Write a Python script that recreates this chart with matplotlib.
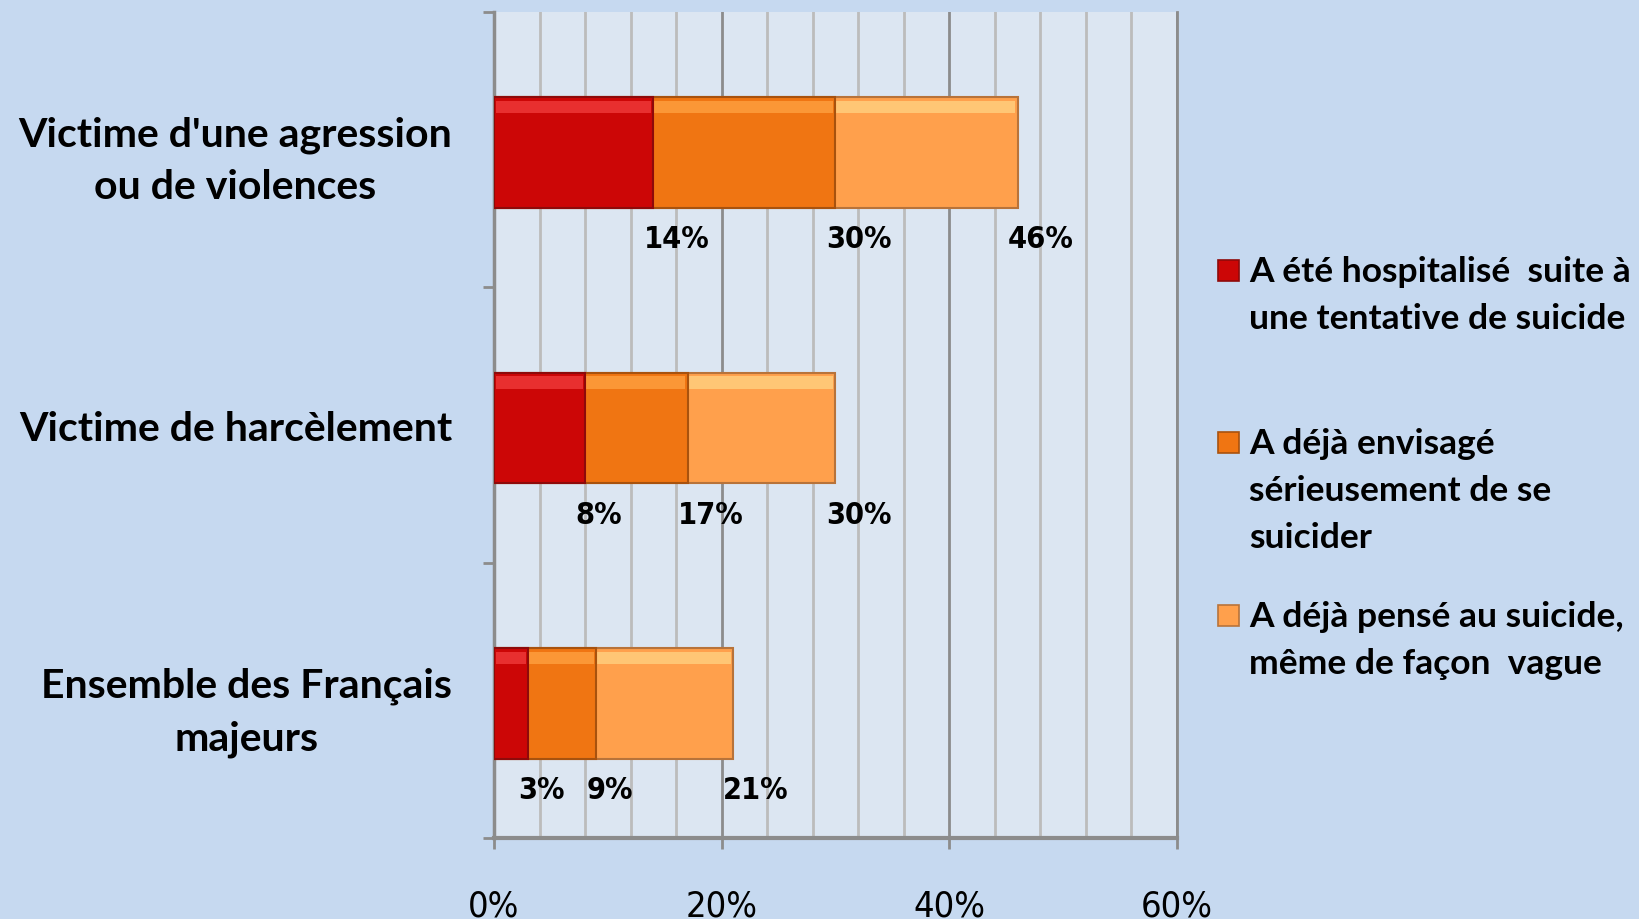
import matplotlib
matplotlib.use("Agg")
import matplotlib.pyplot as plt
from matplotlib.patches import Rectangle
from matplotlib.ticker import MultipleLocator, FixedLocator

# données (%)
categories = ["Victime d'une agression\nou de violences",
              "Victime de harcèlement",
              "Ensemble des Français\nmajeurs"]
hospitalise = [14, 8, 3]
envisage = [30, 17, 9]
pense = [46, 30, 21]
series_labels = ["A été hospitalisé  suite à\nune tentative de suicide",
                 "A déjà envisagé\nsérieusement de se\nsuicider",
                 "A déjà pensé au suicide,\nmême de façon  vague"]
xticks = [0, 20, 40, 60]

fig_bg = "#C6D9F0"
plot_bg = "#DCE6F2"
col_red, col_org, col_light = "#CC0606", "#F07512", "#FFA04C"
edge_red, edge_org, edge_light = "#8E0A0A", "#A8520E", "#B8733A"
top_red, top_org, top_light = "#F03A3A", "#FFA040", "#FFD080"

narrow = dict(family="DejaVu Sans", stretch="condensed")
label_font = ["Lato", "DejaVu Sans"]

fig = plt.figure(figsize=(16.39, 9.2), dpi=100, facecolor=fig_bg)
ax = fig.add_axes([0.3014, 0.088, 0.4167, 0.8984])
ax.set_facecolor(plot_bg)

y = list(range(len(categories)))
yb = [k + 0.012 for k in y]
h = 0.40
# barres superposées, la plus grande dessous
layers = [(pense, col_light, edge_light, top_light),
          (envisage, col_org, edge_org, top_org),
          (hospitalise, col_red, edge_red, top_red)]
z = 3
for vals, fc, ec, tc in layers:
    ax.barh(yb, vals, height=h, color=fc, edgecolor=ec, linewidth=1.5, zorder=z)
    # reflet en haut de la barre
    ax.barh([k - h / 2 + 0.035 for k in yb], [v - 0.35 for v in vals], left=0.15,
            height=0.045, color=tc, alpha=0.8, linewidth=0, zorder=z + 0.5)
    z += 1

# étiquettes sous les barres
for i in y:
    for v in (hospitalise[i], envisage[i], pense[i]):
        ax.annotate(f"{v}%", xy=(v, i + 0.325), xytext=(-7, 0), textcoords="offset points",
                    ha="left", va="center", fontsize=22, fontweight="bold",
                    color="black", zorder=8, **narrow)

ax.set_xlim(0, 60)
ax.set_ylim(len(categories) - 0.5, -0.5)

# grille
ax.xaxis.set_major_locator(FixedLocator(xticks))
ax.xaxis.set_minor_locator(MultipleLocator(4))
ax.grid(which="minor", axis="x", color="#BCBCBC", linewidth=2, zorder=1)
ax.grid(which="major", axis="x", color="#8C8C8C", linewidth=2, zorder=1)
ax.set_xticklabels([f"{t}%" for t in xticks], fontsize=26, **narrow)
ax.tick_params(axis="x", which="major", length=8, width=2, color="#8C8C8C", pad=28)
ax.tick_params(axis="x", which="minor", length=0)

ax.yaxis.set_major_locator(FixedLocator([k - 0.5 for k in range(len(categories) + 1)]))
ax.yaxis.set_minor_locator(FixedLocator(y))
ax.set_yticklabels([], minor=False)
ax.set_yticklabels(categories, minor=True, family=label_font, fontweight="bold",
                   fontsize=29.5, multialignment="center", linespacing=1.5)
ax.tick_params(axis="y", which="major", length=8, width=2, color="#8C8C8C")
ax.tick_params(axis="y", which="minor", length=0, pad=30)

ax.spines["top"].set_visible(False)
ax.spines["right"].set_color("#8C8C8C")
ax.spines["right"].set_linewidth(2)
ax.spines["left"].set_color("#8C8C8C")
ax.spines["left"].set_linewidth(2.5)
ax.spines["bottom"].set_color("#8C8C8C")
ax.spines["bottom"].set_linewidth(3)

# légende
W, H = 1639, 920
leg_cols = [(col_red, edge_red), (col_org, edge_org), (col_light, edge_light)]
first_line = [271, 443, 616]
for lab, (fc, ec), yl in zip(series_labels, leg_cols, first_line):
    fig.patches.append(Rectangle((1218 / W, 1 - (yl + 10.5) / H), 21 / W, 21 / H,
                                 transform=fig.transFigure, facecolor=fc,
                                 edgecolor=ec, linewidth=1.2))
    fig.text(1249 / W, 1 - (yl - 15) / H, lab, ha="left", va="top",
             family=label_font, fontweight="bold", fontsize=25.5, linespacing=1.58)

fig.savefig("out.png", dpi=100, facecolor=fig_bg)
